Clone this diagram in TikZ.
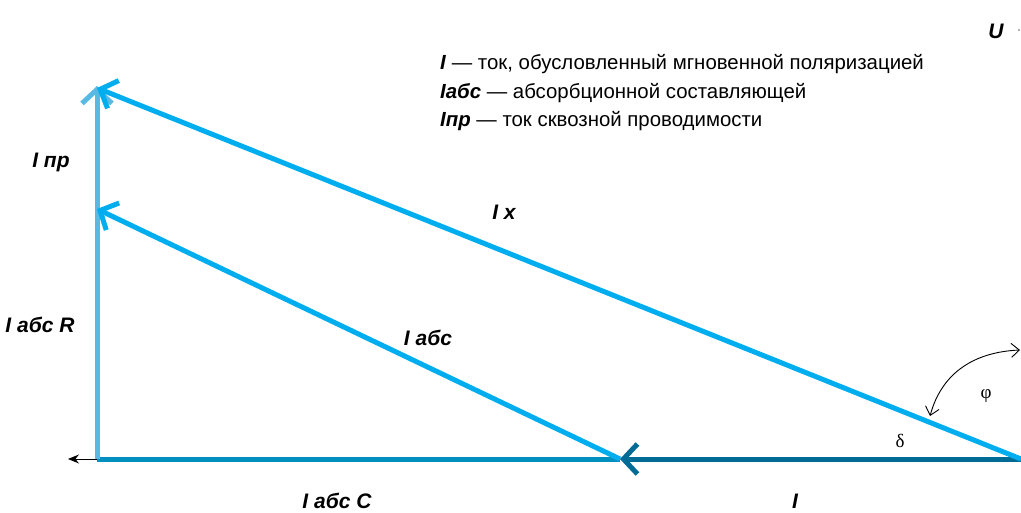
\documentclass[tikz,border=0pt]{standalone}
\usepackage{fontspec}
\setmainfont{Liberation Sans}
\newfontfamily\greekfont{Liberation Serif}
\usetikzlibrary{arrows.meta}
\definecolor{mycyan}{RGB}{0,174,239}
\definecolor{mylight}{RGB}{90,185,227}
\definecolor{mymid}{RGB}{0,144,192}
\definecolor{mydark}{RGB}{0,108,150}
\tikzset{
  vec/.style={line width=5pt, -{Straight Barb[length=14pt,width=30pt,line width=5pt]}},
  lbl/.style={font=\fontsize{21}{25}\selectfont\bfseries\itshape, inner sep=0pt},
  legend/.style={font=\fontsize{20.4}{24}\selectfont, anchor=base west, inner sep=0pt}
}
\begin{document}
\begin{tikzpicture}[x=1pt, y=-1pt]
  \useasboundingbox (0,0) rectangle (1021,512);

  % Points
  \coordinate (O) at (97,459);
  \coordinate (A) at (620,459);
  \coordinate (E) at (1021,459);
  \coordinate (Top) at (97,86);
  \coordinate (Mid) at (97,209);
  \coordinate (L) at (68,459);

  % Triangle sides
  \draw[mymid, line width=5pt] (O) -- (A);
  \draw[vec, mylight] (O) -- (Top);
  \draw[vec, mydark] (E) -- (A);
  \draw[vec, mycyan] (A) -- (Mid);
  \draw[vec, mycyan] (E) -- (97,88);
  \draw[-{Stealth[length=11pt,width=9pt]}, line width=1pt] (O) -- (L);

  % Angle arc
  \coordinate (phiA) at (930,416);
  \coordinate (phiB) at (1020,350);
  \draw[{Straight Barb[length=8pt,width=14pt]}-{Straight Barb[length=8pt,width=14pt]}, line width=0.9pt]
    (phiA) .. controls (942,372) and (975,352) .. (phiB);
  \node[font=\greekfont\fontsize{19}{22}\selectfont] (phi) at (986,396) {φ};
  \node[font=\greekfont\fontsize{19}{22}\selectfont] (delta) at (900,441) {δ};

  % Labels
  \node[lbl] (lpr) at (51,162) {I пр};
  \node[lbl] (labsR) at (40,325) {I абс R};
  \node[lbl] (labs) at (428,338) {I абс};
  \node[lbl] (lx) at (504,212) {I x};
  \node[lbl] (labsC) at (337,501) {I абс C};
  \node[lbl] (lI) at (795,501) {I};
  \node[lbl] (lU) at (996,31) {U};
  \fill[gray!60] (1018,29) rectangle (1020,31);

  % Legend
  \node[legend] (leg1) at (440,69) {\textbf{\textit{I}} — ток, обусловленный мгновенной поляризацией};
  \node[legend] (leg2) at (440,98) {\textbf{\textit{Iабс}} — абсорбционной составляющей};
  \node[legend] (leg3) at (440,126) {\textbf{\textit{Iпр}} — ток сквозной проводимости};
\end{tikzpicture}
\end{document}
